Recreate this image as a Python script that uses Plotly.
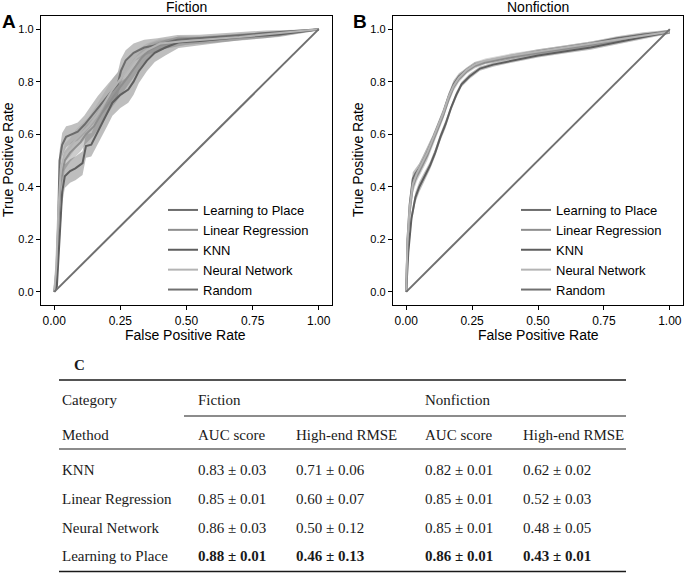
import plotly.graph_objects as go
import numpy as np

W, H = 685, 573

# ---------------- DATA ----------------
methods = ["Learning to Place", "Linear Regression", "KNN", "Neural Network"]

# Fiction ROC curves (FPR, TPR, band half-width)
fic_ltp_fpr = [0, 0.01, 0.02, 0.03, 0.045, 0.064, 0.089, 0.114, 0.139, 0.164, 0.189, 0.214, 0.24, 0.252, 0.27, 0.30, 0.34, 0.39, 0.466, 0.55, 0.68, 0.80, 1.0]
fic_ltp_tpr = [0, 0.05, 0.50, 0.56, 0.59, 0.60, 0.61, 0.636, 0.668, 0.70, 0.73, 0.76, 0.79, 0.84, 0.88, 0.91, 0.93, 0.94, 0.96, 0.965, 0.975, 0.985, 1.0]
fic_ltp_sd = [0, 0.01, 0.035, 0.045, 0.04, 0.035, 0.035, 0.035, 0.04, 0.045, 0.045, 0.045, 0.045, 0.045, 0.04, 0.035, 0.03, 0.025, 0.018, 0.014, 0.012, 0.01, 0.005]

fic_lr_fpr = [0, 0.008, 0.015, 0.025, 0.04, 0.06, 0.08, 0.10, 0.12, 0.15, 0.18, 0.20, 0.22, 0.25, 0.28, 0.30, 0.33, 0.36, 0.40, 0.50, 0.60, 0.80, 1.0]
fic_lr_tpr = [0, 0.08, 0.25, 0.42, 0.50, 0.53, 0.55, 0.57, 0.60, 0.63, 0.68, 0.71, 0.74, 0.78, 0.82, 0.85, 0.89, 0.92, 0.94, 0.955, 0.96, 0.975, 1.0]
fic_lr_sd = [0, 0.01, 0.02, 0.035, 0.035, 0.035, 0.035, 0.035, 0.035, 0.035, 0.035, 0.035, 0.035, 0.035, 0.035, 0.035, 0.03, 0.025, 0.018, 0.014, 0.012, 0.01, 0.005]

fic_knn_fpr = [0, 0.01, 0.02, 0.03, 0.04, 0.06, 0.08, 0.107, 0.115, 0.12, 0.14, 0.16, 0.18, 0.20, 0.22, 0.25, 0.28, 0.30, 0.32, 0.35, 0.38, 0.42, 0.47, 0.55, 0.70, 0.85, 1.0]
fic_knn_tpr = [0, 0.02, 0.20, 0.38, 0.44, 0.46, 0.47, 0.49, 0.53, 0.555, 0.56, 0.60, 0.64, 0.68, 0.72, 0.75, 0.77, 0.80, 0.84, 0.88, 0.91, 0.93, 0.95, 0.955, 0.97, 0.98, 1.0]
fic_knn_sd = [0, 0.01, 0.03, 0.045, 0.045, 0.045, 0.045, 0.045, 0.045, 0.045, 0.045, 0.045, 0.05, 0.05, 0.05, 0.05, 0.05, 0.05, 0.045, 0.04, 0.035, 0.03, 0.022, 0.016, 0.012, 0.01, 0.005]

fic_nn_fpr = [0, 0.008, 0.015, 0.025, 0.04, 0.06, 0.08, 0.10, 0.13, 0.16, 0.19, 0.22, 0.25, 0.28, 0.31, 0.35, 0.40, 0.50, 0.70, 1.0]
fic_nn_tpr = [0, 0.10, 0.30, 0.47, 0.53, 0.55, 0.58, 0.60, 0.63, 0.67, 0.72, 0.77, 0.81, 0.85, 0.89, 0.92, 0.945, 0.955, 0.97, 1.0]
fic_nn_sd = [0, 0.01, 0.02, 0.035, 0.035, 0.035, 0.035, 0.035, 0.035, 0.04, 0.04, 0.04, 0.04, 0.035, 0.03, 0.025, 0.018, 0.014, 0.012, 0.005]

# Nonfiction ROC curves
nf_ltp_fpr = [0, 0.005, 0.013, 0.025, 0.035, 0.05, 0.065, 0.08, 0.10, 0.12, 0.14, 0.16, 0.18, 0.20, 0.23, 0.26, 0.30, 0.40, 0.50, 0.60, 0.70, 0.80, 0.90, 1.0]
nf_ltp_tpr = [0, 0.20, 0.33, 0.43, 0.45, 0.47, 0.50, 0.53, 0.58, 0.63, 0.68, 0.74, 0.79, 0.82, 0.845, 0.865, 0.875, 0.895, 0.915, 0.93, 0.945, 0.965, 0.98, 0.99]
nf_ltp_sd = [0, 0.02, 0.025, 0.025, 0.02, 0.02, 0.02, 0.02, 0.015, 0.015, 0.015, 0.015, 0.015, 0.012, 0.01, 0.01, 0.008, 0.008, 0.008, 0.008, 0.008, 0.008, 0.008, 0.008]

nf_lr_fpr = [0, 0.005, 0.013, 0.025, 0.04, 0.06, 0.08, 0.10, 0.12, 0.14, 0.16, 0.18, 0.20, 0.23, 0.26, 0.30, 0.40, 0.50, 0.60, 0.70, 0.80, 0.90, 1.0]
nf_lr_tpr = [0, 0.18, 0.30, 0.40, 0.44, 0.48, 0.52, 0.57, 0.62, 0.67, 0.73, 0.78, 0.81, 0.84, 0.86, 0.875, 0.895, 0.91, 0.925, 0.94, 0.96, 0.975, 0.99]
nf_lr_sd = [0, 0.02, 0.025, 0.025, 0.02, 0.02, 0.02, 0.015, 0.015, 0.015, 0.015, 0.015, 0.012, 0.01, 0.01, 0.008, 0.008, 0.008, 0.008, 0.008, 0.008, 0.008, 0.008]

nf_knn_fpr = [0, 0.008, 0.02, 0.035, 0.05, 0.07, 0.09, 0.11, 0.13, 0.15, 0.17, 0.19, 0.21, 0.24, 0.28, 0.33, 0.40, 0.50, 0.60, 0.70, 0.80, 0.90, 1.0]
nf_knn_tpr = [0, 0.15, 0.28, 0.36, 0.40, 0.44, 0.48, 0.53, 0.59, 0.64, 0.70, 0.75, 0.79, 0.82, 0.85, 0.865, 0.88, 0.90, 0.915, 0.93, 0.95, 0.97, 0.99]
nf_knn_sd = [0, 0.02, 0.02, 0.02, 0.02, 0.015, 0.015, 0.015, 0.015, 0.015, 0.012, 0.012, 0.01, 0.01, 0.008, 0.008, 0.008, 0.008, 0.008, 0.008, 0.008, 0.008, 0.008]

nf_nn_fpr = [0, 0.005, 0.013, 0.025, 0.04, 0.06, 0.08, 0.10, 0.12, 0.14, 0.16, 0.18, 0.20, 0.23, 0.26, 0.30, 0.40, 0.50, 0.60, 0.70, 0.80, 0.90, 1.0]
nf_nn_tpr = [0, 0.19, 0.32, 0.41, 0.45, 0.49, 0.53, 0.58, 0.63, 0.68, 0.74, 0.785, 0.815, 0.845, 0.865, 0.88, 0.90, 0.915, 0.93, 0.945, 0.96, 0.975, 0.99]
nf_nn_sd = [0, 0.02, 0.025, 0.025, 0.02, 0.02, 0.02, 0.015, 0.015, 0.015, 0.015, 0.015, 0.012, 0.01, 0.01, 0.008, 0.008, 0.008, 0.008, 0.008, 0.008, 0.008, 0.008]

random_fpr = [0, 1]
random_tpr = [0, 1]

x_ticks = [0, 0.25, 0.5, 0.75, 1.0]
y_ticks = [0, 0.2, 0.4, 0.6, 0.8, 1.0]

# Table (panel C)
table_methods = ["KNN", "Linear Regression", "Neural Network", "Learning to Place"]
fic_auc = ["0.83 ± 0.03", "0.85 ± 0.01", "0.86 ± 0.03", "0.88 ± 0.01"]
fic_rmse = ["0.71 ± 0.06", "0.60 ± 0.07", "0.50 ± 0.12", "0.46 ± 0.13"]
nf_auc = ["0.82 ± 0.01", "0.85 ± 0.01", "0.85 ± 0.01", "0.86 ± 0.01"]
nf_rmse = ["0.62 ± 0.02", "0.52 ± 0.03", "0.48 ± 0.05", "0.43 ± 0.01"]
best_method = "Learning to Place"

# ---------------- STYLE ----------------
line_colors = {"Learning to Place": "#6c6c6c", "Linear Regression": "#8e8e8e",
               "KNN": "#5e5e5e", "Neural Network": "#b4b4b4", "Random": "#707070"}
band_colors = {"Learning to Place": "rgba(105,105,105,0.42)", "Linear Regression": "rgba(135,135,135,0.42)",
               "KNN": "rgba(100,100,100,0.42)", "Neural Network": "rgba(165,165,165,0.45)"}

SANS = "Liberation Sans, Arial, sans-serif"
SERIF = "Liberation Serif, Times New Roman, serif"

def X(px):
    return px / W

def Y(py):
    return 1 - py / H

fig = go.Figure()

panels = [
    ("x", "y", "legend", {
        "Learning to Place": (fic_ltp_fpr, fic_ltp_tpr, fic_ltp_sd),
        "Linear Regression": (fic_lr_fpr, fic_lr_tpr, fic_lr_sd),
        "KNN": (fic_knn_fpr, fic_knn_tpr, fic_knn_sd),
        "Neural Network": (fic_nn_fpr, fic_nn_tpr, fic_nn_sd)}),
    ("x2", "y2", "legend2", {
        "Learning to Place": (nf_ltp_fpr, nf_ltp_tpr, nf_ltp_sd),
        "Linear Regression": (nf_lr_fpr, nf_lr_tpr, nf_lr_sd),
        "KNN": (nf_knn_fpr, nf_knn_tpr, nf_knn_sd),
        "Neural Network": (nf_nn_fpr, nf_nn_tpr, nf_nn_sd)}),
]

for xa, ya, lg, curves in panels:
    # shaded bands
    for m in methods:
        fpr, tpr, sd = curves[m]
        fpr = np.array(fpr); tpr = np.array(tpr); sd = np.array(sd)
        up = np.clip(tpr + sd, 0, 1)
        lo = np.clip(tpr - sd, 0, 1)
        fig.add_trace(go.Scatter(
            x=np.concatenate([fpr, fpr[::-1]]), y=np.concatenate([up, lo[::-1]]),
            fill="toself", fillcolor=band_colors[m], line=dict(width=0),
            mode="lines", showlegend=False, hoverinfo="skip", xaxis=xa, yaxis=ya))
    # mean lines
    for m in methods:
        fpr, tpr, sd = curves[m]
        fig.add_trace(go.Scatter(x=fpr, y=tpr, mode="lines", name=m,
                                 line=dict(color=line_colors[m], width=2),
                                 xaxis=xa, yaxis=ya, legend=lg))
    fig.add_trace(go.Scatter(x=random_fpr, y=random_tpr, mode="lines", name="Random",
                             line=dict(color=line_colors["Random"], width=2),
                             xaxis=xa, yaxis=ya, legend=lg))

axis_common = dict(range=[-0.05, 1.05], showgrid=False, zeroline=False, showline=True,
                   linecolor="black", linewidth=1.3, mirror=True, ticks="outside",
                   ticklen=4, tickwidth=1.2, tickcolor="black")

ydom = [Y(305), Y(16)]
fig.update_layout(
    width=W, height=H, margin=dict(l=0, r=0, t=0, b=0),
    paper_bgcolor="white", plot_bgcolor="white",
    font=dict(family=SANS, color="black"),
    xaxis=dict(domain=[X(41), X(332)], anchor="y", tickvals=x_ticks, tickformat=".2f",
               tickfont=dict(size=12, family=SANS), **axis_common),
    yaxis=dict(domain=ydom, anchor="x", tickvals=y_ticks, tickformat=".1f",
               tickfont=dict(size=11, family=SANS), **axis_common),
    xaxis2=dict(domain=[X(393), X(683)], anchor="y2", tickvals=x_ticks, tickformat=".2f",
                tickfont=dict(size=12, family=SANS), **axis_common),
    yaxis2=dict(domain=ydom, anchor="x2", tickvals=y_ticks, tickformat=".1f",
                tickfont=dict(size=11, family=SANS), **axis_common),
    legend=dict(x=X(163), y=Y(195), xanchor="left", yanchor="top", bgcolor="rgba(0,0,0,0)",
                font=dict(size=13, family=SANS), borderwidth=0),
    legend2=dict(x=X(516), y=Y(195), xanchor="left", yanchor="top", bgcolor="rgba(0,0,0,0)",
                 font=dict(size=13, family=SANS), borderwidth=0),
)

ann = []
# panel titles, letters, axis titles
ann.append(dict(text="Fiction", x=X(186), y=Y(7), font=dict(size=14, family=SANS)))
ann.append(dict(text="Nonfiction", x=X(538), y=Y(7), font=dict(size=14, family=SANS)))
ann.append(dict(text="<b>A</b>", x=X(9), y=Y(22), font=dict(size=19, family=SANS)))
ann.append(dict(text="<b>B</b>", x=X(360), y=Y(22), font=dict(size=19, family=SANS)))
ann.append(dict(text="False Positive Rate", x=X(185), y=Y(335), font=dict(size=14, family=SANS)))
ann.append(dict(text="False Positive Rate", x=X(538), y=Y(335), font=dict(size=14, family=SANS)))
ann.append(dict(text="True Positive Rate", x=X(8), y=Y(160), textangle=-90, font=dict(size=14, family=SANS)))
ann.append(dict(text="True Positive Rate", x=X(358), y=Y(160), textangle=-90, font=dict(size=14, family=SANS)))
for a in ann:
    a.update(xref="paper", yref="paper", showarrow=False, xanchor="center", yanchor="middle")

tbl = []
def tx(text, px, py, bold=False):
    tbl.append(dict(text=f"<b>{text}</b>" if bold else text, x=X(px), y=Y(py), xref="paper", yref="paper",
                    showarrow=False, xanchor="left", yanchor="middle",
                    font=dict(size=15, family=SERIF, color="#1a1a1a")))

col_x = [60, 196, 294, 423, 521]
tbl.append(dict(text="<b>C</b>", x=X(72), y=Y(365), xref="paper", yref="paper", showarrow=False,
                xanchor="left", yanchor="middle", font=dict(size=15, family=SERIF, color="#1a1a1a")))
tx("Category", col_x[0], 400)
tx("Fiction", col_x[1], 400)
tx("Nonfiction", col_x[3], 400)
tx("Method", col_x[0], 435)
tx("AUC score", col_x[1], 435)
tx("High-end RMSE", col_x[2], 435)
tx("AUC score", col_x[3], 435)
tx("High-end RMSE", col_x[4], 435)
row_y = [470, 499, 528, 556]
for i, m in enumerate(table_methods):
    b = (m == best_method)
    tx(m, col_x[0], row_y[i])
    tx(fic_auc[i], col_x[1], row_y[i], b)
    tx(fic_rmse[i], col_x[2], row_y[i], b)
    tx(nf_auc[i], col_x[3], row_y[i], b)
    tx(nf_rmse[i], col_x[4], row_y[i], b)

shapes = []
def rule(x0, x1, py, w=1.2):
    shapes.append(dict(type="line", xref="paper", yref="paper", x0=X(x0), x1=X(x1), y0=Y(py), y1=Y(py),
                       line=dict(color="#1a1a1a", width=w)))
rule(59, 626, 380, 1.5)
rule(184, 626, 416, 1.2)
rule(59, 626, 449, 1.2)
rule(59, 626, 571.5, 1.5)

fig.update_layout(annotations=ann + tbl, shapes=shapes)

fig.write_html("out.html", config={"displayModeBar": False},
               post_script="document.body.style.margin='0';document.body.style.overflow='hidden';")
